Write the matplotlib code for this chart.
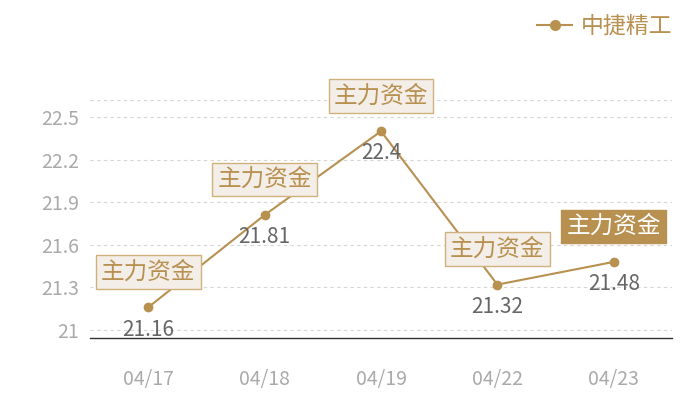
import matplotlib
matplotlib.use('Agg')
import matplotlib.pyplot as plt
from matplotlib.lines import Line2D

plt.rcParams['font.family'] = ['Noto Sans CJK SC', 'DejaVu Sans']

dates = ['04/17', '04/18', '04/19', '04/22', '04/23']
prices = [21.16, 21.81, 22.4, 21.32, 21.48]
tags = ['主力资金', '主力资金', '主力资金', '主力资金', '主力资金']
tag_solid = [False, False, False, False, True]
yticks = [21, 21.3, 21.6, 21.9, 22.2, 22.5]
series_name = '中捷精工'

gold = '#b8904f'
fig = plt.figure(figsize=(7, 4), dpi=100)
ax = fig.add_axes([0.1286, 0.155, 0.8314, 0.595])

x = list(range(len(dates)))
ax.plot(x, prices, color=gold, lw=1.5, marker='o', ms=6, zorder=3)

for i, (v, t, solid) in enumerate(zip(prices, tags, tag_solid)):
    ax.annotate(f'{v:g}', (i, v), xytext=(0, -16), textcoords='offset points',
                ha='center', va='center', fontsize=15, color='#666666', zorder=4)
    if solid:
        box = dict(boxstyle='square,pad=0.22', fc=gold, ec=gold, lw=1)
        tc = 'white'
    else:
        box = dict(boxstyle='square,pad=0.22', fc='#f3eee8', ec='#d0b07c', lw=1)
        tc = gold
    ax.annotate(t, (i, v), xytext=(0, 25.5), textcoords='offset points',
                ha='center', va='center', fontsize=17, color=tc, bbox=box, zorder=5)

ax.set_xlim(-0.5, len(dates) - 0.5)
ax.set_ylim(20.944, 22.62)
ax.set_xticks(x)
ax.set_xticklabels(dates)
ax.set_yticks(yticks)
ax.set_yticklabels([f'{t:g}' for t in yticks])
ax.tick_params(length=0, colors='#aaaaaa', labelsize=14)
ax.tick_params(axis='x', pad=22)
ax.tick_params(axis='y', pad=8)

for t in yticks:
    ax.axhline(t, color='#d5d5d5', lw=0.8, ls=(0, (3, 3)), zorder=1)
ax.axhline(22.62, color='#d5d5d5', lw=0.8, ls=(0, (3, 3)), zorder=1)

for s in ['top', 'right', 'left']:
    ax.spines[s].set_visible(False)
ax.spines['bottom'].set_color('#333333')
ax.spines['bottom'].set_linewidth(1)

handle = Line2D([], [], color=gold, lw=1.5, marker='o', ms=7)
leg = fig.legend([handle], [series_name], loc='upper right', bbox_to_anchor=(0.99, 1.015),
                 frameon=False, fontsize=16.5, handlelength=1.5, handletextpad=0.4)
for txt in leg.get_texts():
    txt.set_color(gold)

fig.savefig('out.png', dpi=100)
